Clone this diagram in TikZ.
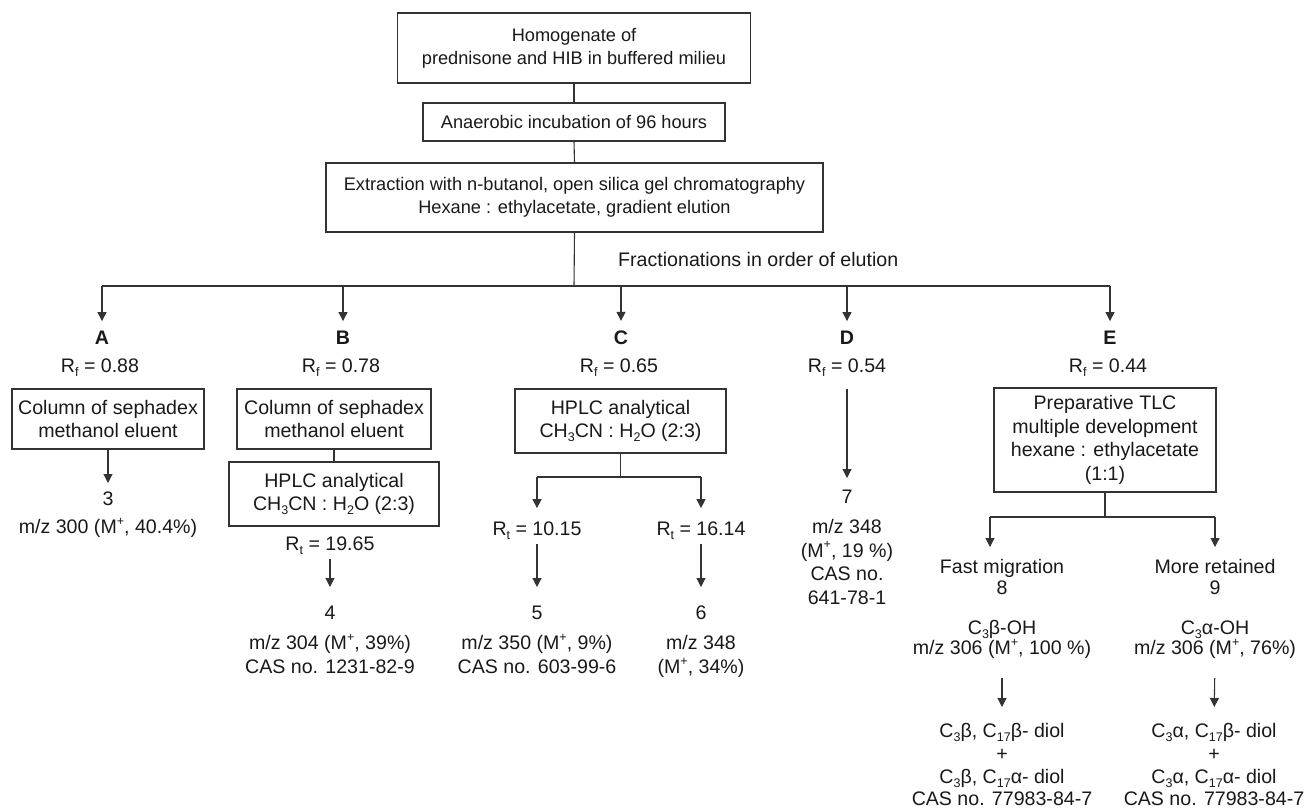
\documentclass[tikz,border=0pt]{standalone}
\usepackage{fontspec}
\setmainfont{Liberation Sans}
\usetikzlibrary{arrows.meta}
\newcommand{\lsub}[1]{\raisebox{-0.22em}{\fontsize{12.5}{12.5}\selectfont #1}}
\newcommand{\lsup}[1]{\raisebox{0.42em}{\fontsize{12.5}{12.5}\selectfont #1}}
\tikzset{
  lc/.style={draw=black!80, line width=1.1pt},
  txt/.style={align=center, inner sep=0pt, text=black!90, font=\fontsize{19.6}{23.5}\selectfont},
  etxt/.style={txt, font=\fontsize{19.6}{22.8}\selectfont},
  box/.style={txt, lc},
  topf/.style={font=\fontsize{18.2}{23}\selectfont},
  arr/.style={lc, -{Triangle[width=9pt,length=9pt]}},
  lett/.style={inner sep=0pt, text=black!90, font=\fontsize{19.6}{23.5}\selectfont\bfseries},
}
\begin{document}
\begin{tikzpicture}[x=1pt,y=-1pt]
\useasboundingbox (0,0) rectangle (1306,811);

% top chain
\node[box,topf,minimum width=353pt,minimum height=70pt] (b1) at (574,48) {Homogenate of\\prednisone and HIB in buffered milieu};
\node[box,topf,minimum width=302pt,minimum height=38pt] (b2) at (574,122) {Anaerobic incubation of 96 hours};
\node[box,topf,minimum width=497pt,minimum height=69pt] (b3) at (574.5,197.5) {Extraction with n-butanol, open silica gel chromatography\\Hexane : ethylacetate, gradient elution};
\node[txt,anchor=base west] (frac) at (618,266) {Fractionations in order of elution};

\coordinate (j) at (574,286);
\coordinate (hA) at (102,286);
\coordinate (hB) at (343,286);
\coordinate (hC) at (621,286);
\coordinate (hD) at (847,286);
\coordinate (hE) at (1110,286);
\draw[lc] (b1.south) -- (b2.north);
\draw[lc] (b2.south) -- (b3.north);
\draw[lc] (b3.south) -- (j);
\draw[lc] (hA) -- (hE);

% fraction letters
\node[lett] (lA) at (102,338) {A};
\node[lett] (lB) at (343,338) {B};
\node[lett] (lC) at (621,338) {C};
\node[lett] (lD) at (847,338) {D};
\node[lett] (lE) at (1110,338) {E};
\foreach \k in {A,B,C,D,E}{\draw[arr,shorten >=10pt] (h\k) -- (l\k.north);}

\node[txt,anchor=base] (rA) at (100,372) {R\lsub{f} = 0.88};
\node[txt,anchor=base] (rB) at (341,372) {R\lsub{f} = 0.78};
\node[txt,anchor=base] (rC) at (619,372) {R\lsub{f} = 0.65};
\node[txt,anchor=base] (rD) at (847,372) {R\lsub{f} = 0.54};
\node[txt,anchor=base] (rE) at (1108,372) {R\lsub{f} = 0.44};

% column A
\node[box,minimum width=192pt,minimum height=60pt] (sA) at (108,419) {Column of sephadex\\methanol eluent};
\node[txt,anchor=north] (n3) at (108,492) {3\\[4.5pt]m/z 300 (M\lsup{+}, 40.4\%)};
\draw[arr,shorten >=9pt] (sA.south) -- (n3.north);

% column B
\node[box,minimum width=194pt,minimum height=60pt] (sB) at (334,419) {Column of sephadex\\methanol eluent};
\node[box,minimum width=210pt,minimum height=64pt] (hplcB) at (334,494) {HPLC analytical\\CH\lsub{3}CN : H\lsub{2}O (2:3)};
\draw[lc] (sB.south) -- (hplcB.north);
\node[txt,anchor=base] (rtB) at (330,550) {R\lsub{t} = 19.65};
\node[txt,anchor=north] (n4) at (330,606) {4\\[6.5pt]m/z 304 (M\lsup{+}, 39\%)\\CAS no. 1231-82-9};
\draw[arr,shorten <=4pt,shorten >=19pt] (rtB.south) -- (n4.north);

% column C
\node[box,minimum width=211pt,minimum height=64pt] (hplcC) at (620.5,421) {HPLC analytical\\CH\lsub{3}CN : H\lsub{2}O (2:3)};
\coordinate (jC) at (621,477);
\coordinate (jC1) at (537,477);
\coordinate (jC2) at (701,477);
\draw[lc] (hplcC.south) -- (hplcC.south |- jC);
\draw[lc] (jC1) -- (jC2);
\node[txt,anchor=base] (rt10) at (537,535) {R\lsub{t} = 10.15};
\node[txt,anchor=base] (rt16) at (701,535) {R\lsub{t} = 16.14};
\draw[arr,shorten >=13pt] (jC1) -- (rt10.north);
\draw[arr,shorten >=13pt] (jC2) -- (rt16.north);
\node[txt,anchor=north] (n5) at (537,606) {5\\[6.5pt]m/z 350 (M\lsup{+}, 9\%)\\CAS no. 603-99-6};
\node[txt,anchor=north] (n6) at (701,606) {6\\[6.5pt]m/z 348\\(M\lsup{+}, 34\%)};
\draw[arr,shorten <=4pt,shorten >=19pt] (rt10.south) -- (n5.north);
\draw[arr,shorten <=4pt,shorten >=19pt] (rt16.south) -- (n6.north);

% column D
\node[txt,anchor=north] (n7) at (847,490) {7\\[6.5pt]m/z 348\\(M\lsup{+}, 19 \%)\\CAS no.\\641-78-1};
\draw[arr,shorten <=12pt,shorten >=12pt] (rD.south) -- (n7.north);

% column E
\node[box,minimum width=222pt,minimum height=104pt] (tlc) at (1105,440) {Preparative TLC\\multiple development\\hexane : ethylacetate\\(1:1)};
\coordinate (jE) at (1105,517);
\coordinate (jE1) at (990,517);
\coordinate (jE2) at (1215,517);
\draw[lc] (tlc.south) -- (jE);
\draw[lc] (jE1) -- (jE2);
\node[etxt,anchor=north] (fast) at (1002,559) {Fast migration\\[-2pt]8\\[17pt]C\lsub{3}β-OH\\[-2pt]m/z 306 (M\lsup{+}, 100 \%)};
\node[etxt,anchor=north] (more) at (1215,559) {More retained\\[-2pt]9\\[17pt]C\lsub{3}α-OH\\[-2pt]m/z 306 (M\lsup{+}, 76\%)};
\draw[arr,shorten >=12pt] (jE1) -- (jE1 |- fast.north);
\draw[arr,shorten >=12pt] (jE2) -- (more.north);
\node[etxt,anchor=north] (dL) at (1002,723) {C\lsub{3}β, C\lsub{17}β- diol\\+\\C\lsub{3}β, C\lsub{17}α- diol\\CAS no. 77983-84-7};
\node[etxt,anchor=north] (dR) at (1214,723) {C\lsub{3}α, C\lsub{17}β- diol\\+\\C\lsub{3}α, C\lsub{17}α- diol\\CAS no. 77983-84-7};
\draw[arr,shorten <=19pt,shorten >=16pt] (fast.south) -- (dL.north);
\draw[arr,shorten <=19pt,shorten >=16pt] (more.south) -- (dR.north);
\end{tikzpicture}
\end{document}
